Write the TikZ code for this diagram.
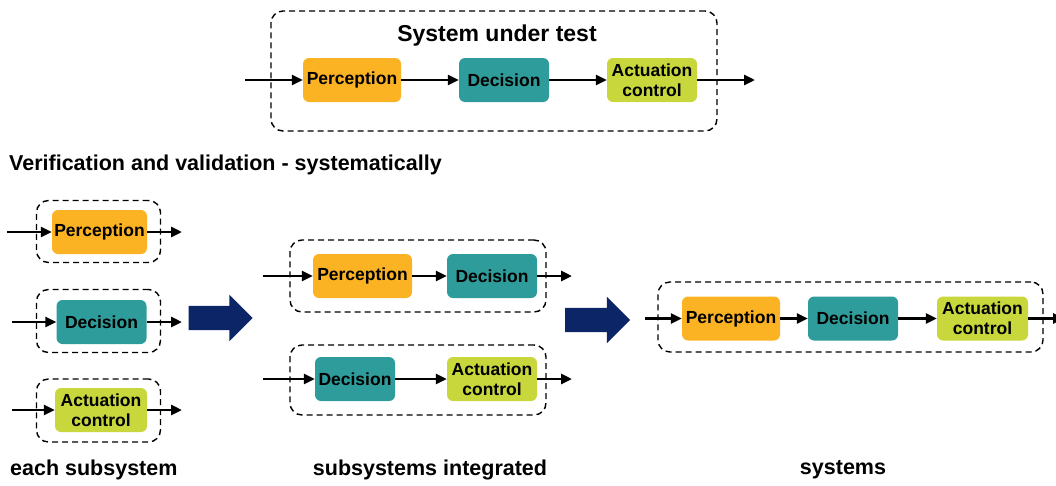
\documentclass[tikz,border=0pt]{standalone}
\usepackage{fontspec}
\setmainfont{Liberation Sans}
\usetikzlibrary{arrows.meta,shapes.arrows}
\definecolor{percol}{HTML}{FBB323}
\definecolor{deccol}{HTML}{2E9C9A}
\definecolor{actcol}{HTML}{C8D73C}
\definecolor{navy}{HTML}{0B2566}
\begin{document}
\begin{tikzpicture}[x=1pt,y=-1pt,
  blockbox/.style={rounded corners=6pt, minimum height=44pt, inner sep=0pt, align=center, font=\fontsize{17.5}{20}\selectfont\bfseries},
  per/.style={blockbox, fill=percol, minimum width=98pt},
  dec/.style={blockbox, fill=deccol, minimum width=90pt},
  act/.style={blockbox, fill=actcol, minimum width=90pt},
  dashbox/.style={draw, dash pattern=on 6pt off 4pt, line width=1.4pt, rounded corners=12pt, inner sep=0pt},
  conn/.style={-{Triangle[length=11pt,width=10pt]}, line width=2.8pt},
  bigarrow/.style={single arrow, fill=navy, single arrow head extend=11pt, minimum height=64pt, inner xsep=0pt, inner ysep=12pt},
  lbl/.style={inner sep=0pt, font=\fontsize{21.5}{24}\selectfont\bfseries}]
\useasboundingbox (0,0) rectangle (1056,485);
% system under test
\node[dashbox, minimum width=446pt, minimum height=120pt] (sut) at (494,71) {};
\node[font=\fontsize{23}{26}\selectfont\bfseries] (title) at (497,36) {System under test};
\node[per] (p0) at (352,80) {Perception};
\node[dec] (d0) at (504,80) {Decision};
\node[act] (a0) at (652,80) {Actuation\\control};
\coordinate (i0) at (245,80);
\coordinate (o0) at (755,80);
\draw[conn] (i0) -- (p0);
\draw[conn] (p0) -- (d0);
\draw[conn] (d0) -- (a0);
\draw[conn] (a0) -- (o0);
\node[lbl, anchor=west] (vv) at (9,165) {Verification and validation - systematically};
% each subsystem
\node[dashbox, minimum width=124pt, minimum height=62pt] (s1) at (98.5,231.5) {};
\node[per, minimum width=95pt] (p1) at (99.5,232) {Perception};
\coordinate (i1) at (7,232);
\coordinate (o1) at (182,232);
\draw[conn] (i1) -- (p1);
\draw[conn] (p1) -- (o1);
\node[dashbox, minimum width=124pt, minimum height=63pt] (s2) at (98.5,321) {};
\node[dec] (d1) at (101.5,322) {Decision};
\coordinate (i2) at (12,322);
\coordinate (o2) at (182,322);
\draw[conn] (i2) -- (d1);
\draw[conn] (d1) -- (o2);
\node[dashbox, minimum width=124pt, minimum height=63pt] (s3) at (98.5,410.5) {};
\node[act, minimum width=92pt] (a1) at (101,410) {Actuation\\control};
\coordinate (i3) at (12,410);
\coordinate (o3) at (182,410);
\draw[conn] (i3) -- (a1);
\draw[conn] (a1) -- (o3);
\node[bigarrow] (big1) at (214.5,318) {};
% subsystems integrated
\node[dashbox, minimum width=256pt, minimum height=72pt] (s4) at (418,276) {};
\node[per, minimum width=99pt] (p2) at (362.5,276) {Perception};
\node[dec] (d2) at (492,276) {Decision};
\coordinate (i4) at (263,276);
\coordinate (o4) at (572,276);
\draw[conn] (i4) -- (p2);
\draw[conn] (p2) -- (d2);
\draw[conn] (d2) -- (o4);
\node[dashbox, minimum width=256pt, minimum height=70pt] (s5) at (418,380) {};
\node[dec, minimum width=80pt] (d3) at (355,379) {Decision};
\node[act] (a2) at (492,379) {Actuation\\control};
\coordinate (i5) at (263,379);
\coordinate (o5) at (572,379);
\draw[conn] (i5) -- (d3);
\draw[conn] (d3) -- (a2);
\draw[conn] (a2) -- (o5);
\node[bigarrow, minimum height=65pt] (big2) at (591.5,320) {};
% systems
\node[dashbox, minimum width=385pt, minimum height=70pt] (s6) at (850.5,317) {};
\node[per] (p3) at (731,318.5) {Perception};
\node[dec] (d4) at (853,318.5) {Decision};
\node[act, minimum width=91pt] (a3) at (982.5,318.5) {Actuation\\control};
\coordinate (i6) at (645,318.5);
\coordinate (o6) at (1064,318.5);
\draw[conn] (i6) -- (p3);
\draw[conn] (p3) -- (d4);
\draw[conn] (d4) -- (a3);
\draw[conn] (a3) -- (o6);
% stage labels
\node[lbl, anchor=west] (l1) at (10,470) {each subsystem};
\node[lbl] (l2) at (430,470) {subsystems integrated};
\node[lbl] (l3) at (843,470) {systems};
\end{tikzpicture}
\end{document}
